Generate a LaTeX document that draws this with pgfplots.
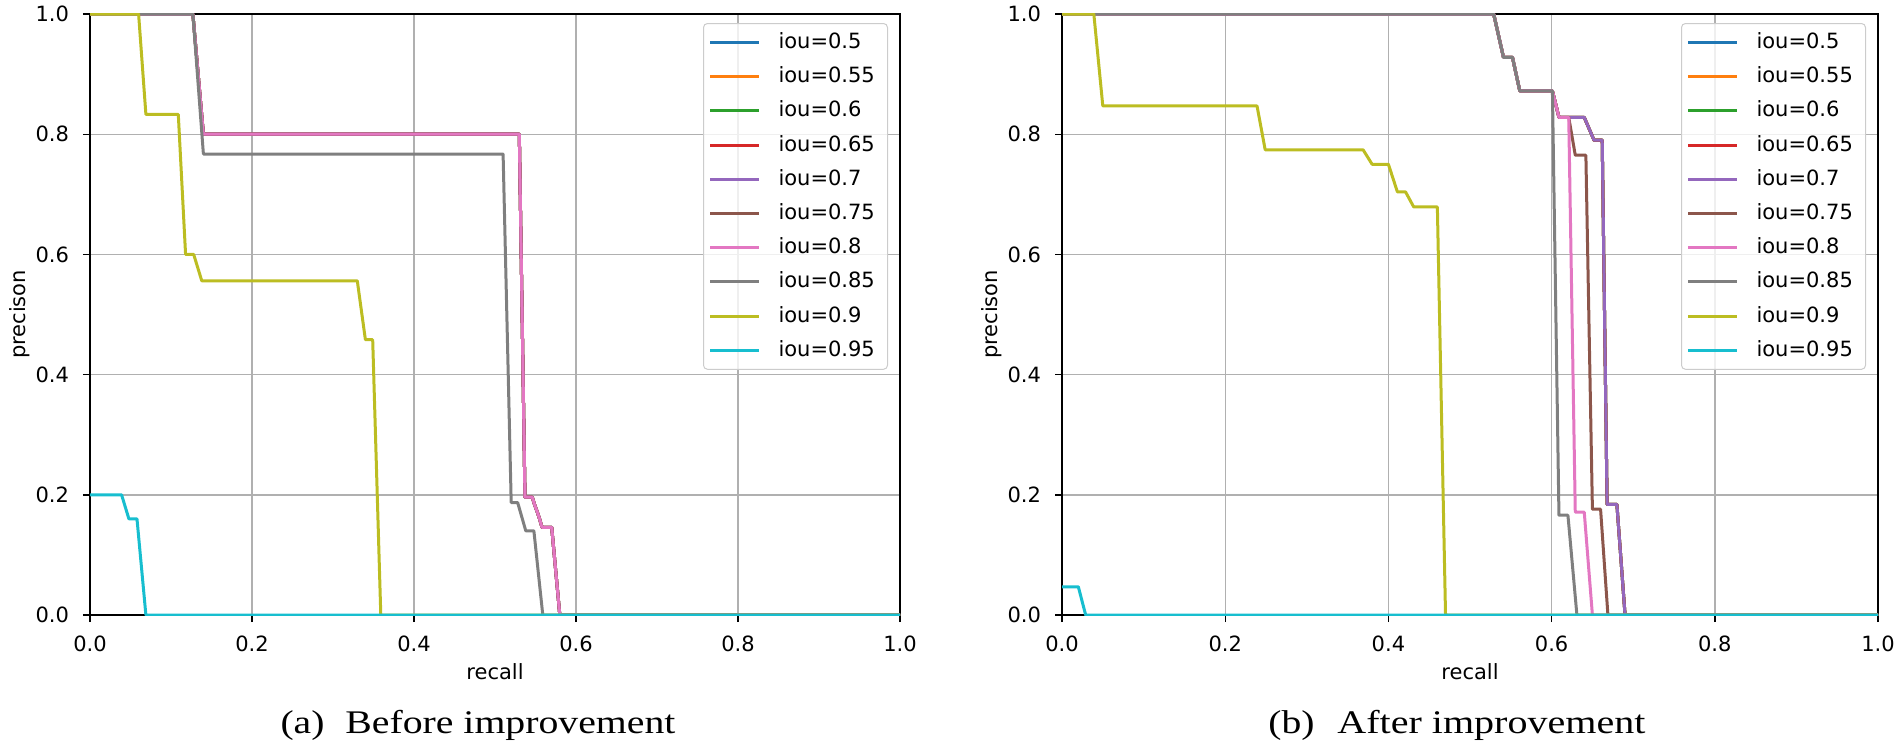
\documentclass[border=0pt]{standalone}
\usepackage{fontspec}
\setmainfont{DejaVu Sans}
\newfontfamily\capfont{Liberation Serif}
\usepackage{graphicx}
\usepackage{pgfplots}
\pgfplotsset{compat=1.18}
\definecolor{c0}{HTML}{1F77B4}
\definecolor{c1}{HTML}{FF7F0E}
\definecolor{c2}{HTML}{2CA02C}
\definecolor{c3}{HTML}{D62728}
\definecolor{c4}{HTML}{9467BD}
\definecolor{c5}{HTML}{8C564B}
\definecolor{c6}{HTML}{E377C2}
\definecolor{c7}{HTML}{7F7F7F}
\definecolor{c8}{HTML}{BCBD22}
\definecolor{c9}{HTML}{17BECF}
\definecolor{gridc}{HTML}{B0B0B0}
\definecolor{legc}{HTML}{CCCCCC}
\pgfplotsset{
  prstyle/.style={
    scale only axis,
    xmin=0, xmax=1, ymin=0, ymax=1,
    xtick={0,0.2,0.4,0.6,0.8,1}, ytick={0,0.2,0.4,0.6,0.8,1},
    xtick pos=bottom, ytick pos=left, tick align=outside,
    major tick length=3.5pt,
    every tick/.style={black, line width=0.7pt},
    grid=major, grid style={color=gridc, line width=0.7pt},
    axis line style={line width=1pt, black},
    ticklabel style={font=\fontsize{10.5}{12}\selectfont, text=black},
    xticklabel style={yshift=-3.5pt},
    yticklabel style={xshift=-3.5pt},
    /pgf/number format/fixed,
    /pgf/number format/fixed zerofill,
    /pgf/number format/precision=1,
    /pgf/number format/assume math mode=true,
    label style={font=\fontsize{10.5}{12}\selectfont},
    xlabel={recall},
    ylabel={precison},
    no markers,
    every axis plot/.append style={line width=1.5pt, line join=round},
    legend image code/.code={\draw[#1] (0pt,0pt) -- (24.5pt,0pt);},
    legend style={
      at={(1,1)}, anchor=north east, xshift=-6pt, yshift=-4.5pt,
      draw=legc, line width=0.5pt, rounded corners=2pt,
      fill=white, fill opacity=0.8, text opacity=1,
      inner xsep=2.5pt, inner ysep=4.5pt,
      row sep=7.1pt,
      font=\fontsize{10.5}{12}\selectfont,
      nodes={inner sep=0pt, text height=8pt, text depth=2pt, anchor=west, text width=52pt},
      /tikz/every odd column/.append style={column sep=9pt},
    },
    legend cell align=left,
  }
}
\begin{document}
\begin{tikzpicture}
\path[use as bounding box] (0,0) rectangle (950pt,373pt);
% ---------------- (a) ----------------
\begin{axis}[prstyle, at={(45pt,65.5pt)}, anchor=south west,
  width=405pt, height=300.5pt,
  xlabel style={at={(axis description cs:0.5,-0.0948)}, anchor=center},
  ylabel style={at={(axis description cs:-0.0864,0.5)}, anchor=center}]
\addplot[c0] coordinates {(0,1) (0.127,1) (0.14,0.8) (0.53,0.8) (0.537,0.196) (0.546,0.196) (0.549,0.183) (0.552,0.172) (0.555,0.16) (0.558,0.146) (0.570,0.146) (0.580,0) (1,0)};
\addplot[c1] coordinates {(0,1) (0.127,1) (0.14,0.8) (0.53,0.8) (0.537,0.196) (0.546,0.196) (0.549,0.183) (0.552,0.172) (0.555,0.16) (0.558,0.146) (0.570,0.146) (0.580,0) (1,0)};
\addplot[c2] coordinates {(0,1) (0.127,1) (0.14,0.8) (0.53,0.8) (0.537,0.196) (0.546,0.196) (0.549,0.183) (0.552,0.172) (0.555,0.16) (0.558,0.146) (0.570,0.146) (0.580,0) (1,0)};
\addplot[c3] coordinates {(0,1) (0.127,1) (0.14,0.8) (0.53,0.8) (0.537,0.196) (0.546,0.196) (0.549,0.183) (0.552,0.172) (0.555,0.16) (0.558,0.146) (0.570,0.146) (0.580,0) (1,0)};
\addplot[c4] coordinates {(0,1) (0.127,1) (0.14,0.8) (0.53,0.8) (0.537,0.196) (0.546,0.196) (0.549,0.183) (0.552,0.172) (0.555,0.16) (0.558,0.146) (0.570,0.146) (0.580,0) (1,0)};
\addplot[c5] coordinates {(0,1) (0.127,1) (0.14,0.8) (0.53,0.8) (0.537,0.196) (0.546,0.196) (0.549,0.183) (0.552,0.172) (0.555,0.16) (0.558,0.146) (0.570,0.146) (0.580,0) (1,0)};
\addplot[c6] coordinates {(0,1) (0.127,1) (0.14,0.8) (0.53,0.8) (0.537,0.196) (0.546,0.196) (0.549,0.183) (0.552,0.172) (0.555,0.16) (0.558,0.146) (0.570,0.146) (0.580,0) (1,0)};
\addplot[c7] coordinates {(0,1) (0.127,1) (0.14,0.767) (0.51,0.767) (0.52,0.187) (0.528,0.187) (0.538,0.14) (0.548,0.14) (0.559,0) (1,0)};
\addplot[c8] coordinates {(0,1) (0.06,1) (0.069,0.833) (0.109,0.833) (0.118,0.6) (0.128,0.6) (0.138,0.556) (0.33,0.556) (0.34,0.458) (0.349,0.458) (0.359,0) (1,0)};
\addplot[c9] coordinates {(0,0.2) (0.039,0.2) (0.048,0.16) (0.058,0.16) (0.069,0) (1,0)};
\legend{iou=0.5,iou=0.55,iou=0.6,iou=0.65,iou=0.7,iou=0.75,iou=0.8,iou=0.85,iou=0.9,iou=0.95}
\end{axis}
% ---------------- (b) ----------------
\begin{axis}[prstyle, at={(531pt,65.5pt)}, anchor=south west,
  width=408pt, height=300.5pt,
  xlabel style={at={(axis description cs:0.5,-0.0948)}, anchor=center},
  ylabel style={at={(axis description cs:-0.0858,0.5)}, anchor=center}]
\addplot[c0] coordinates {(0,1) (0.529,1) (0.541,0.928) (0.552,0.928) (0.561,0.872) (0.601,0.872) (0.609,0.828) (0.64,0.828) (0.652,0.79) (0.662,0.79) (0.668,0.184) (0.68,0.184) (0.69,0) (1,0)};
\addplot[c1] coordinates {(0,1) (0.529,1) (0.541,0.928) (0.552,0.928) (0.561,0.872) (0.601,0.872) (0.609,0.828) (0.64,0.828) (0.652,0.79) (0.662,0.79) (0.668,0.184) (0.68,0.184) (0.69,0) (1,0)};
\addplot[c2] coordinates {(0,1) (0.529,1) (0.541,0.928) (0.552,0.928) (0.561,0.872) (0.601,0.872) (0.609,0.828) (0.64,0.828) (0.652,0.79) (0.662,0.79) (0.668,0.184) (0.68,0.184) (0.69,0) (1,0)};
\addplot[c3] coordinates {(0,1) (0.529,1) (0.541,0.928) (0.552,0.928) (0.561,0.872) (0.601,0.872) (0.609,0.828) (0.64,0.828) (0.652,0.79) (0.662,0.79) (0.668,0.184) (0.68,0.184) (0.69,0) (1,0)};
\addplot[c4] coordinates {(0,1) (0.529,1) (0.541,0.928) (0.552,0.928) (0.561,0.872) (0.601,0.872) (0.609,0.828) (0.64,0.828) (0.652,0.79) (0.662,0.79) (0.668,0.184) (0.68,0.184) (0.69,0) (1,0)};
\addplot[c5] coordinates {(0,1) (0.529,1) (0.541,0.928) (0.552,0.928) (0.561,0.872) (0.601,0.872) (0.609,0.828) (0.621,0.828) (0.629,0.765) (0.642,0.765) (0.65,0.176) (0.66,0.176) (0.669,0) (1,0)};
\addplot[c6] coordinates {(0,1) (0.529,1) (0.541,0.928) (0.552,0.928) (0.561,0.872) (0.601,0.872) (0.609,0.828) (0.621,0.828) (0.629,0.171) (0.64,0.171) (0.65,0) (1,0)};
\addplot[c7] coordinates {(0,1) (0.529,1) (0.541,0.928) (0.552,0.928) (0.561,0.872) (0.601,0.872) (0.609,0.166) (0.62,0.166) (0.631,0) (1,0)};
\addplot[c8] coordinates {(0,1) (0.039,1) (0.05,0.847) (0.239,0.847) (0.249,0.774) (0.369,0.774) (0.38,0.75) (0.40,0.75) (0.411,0.704) (0.421,0.704) (0.431,0.679) (0.46,0.679) (0.47,0) (1,0)};
\addplot[c9] coordinates {(0,0.047) (0.02,0.047) (0.029,0) (1,0)};
\legend{iou=0.5,iou=0.55,iou=0.6,iou=0.65,iou=0.7,iou=0.75,iou=0.8,iou=0.85,iou=0.9,iou=0.95}
\end{axis}
% ---------------- captions ----------------
\node[anchor=base, inner sep=0pt] at (151.25pt,6.5pt) {\scalebox{1.2}[1]{\capfont\fontsize{16.5}{18}\selectfont (a)}};
\node[anchor=base west, inner sep=0pt] at (172.5pt,6.5pt) {\resizebox{165pt}{\height}{\capfont\fontsize{16.5}{18}\selectfont Before improvement}};
\node[anchor=base, inner sep=0pt] at (645.75pt,6.5pt) {\scalebox{1.2}[1]{\capfont\fontsize{16.5}{18}\selectfont (b)}};
\node[anchor=base west, inner sep=0pt] at (668.5pt,6.5pt) {\resizebox{154pt}{\height}{\capfont\fontsize{16.5}{18}\selectfont After improvement}};
\end{tikzpicture}
\end{document}
